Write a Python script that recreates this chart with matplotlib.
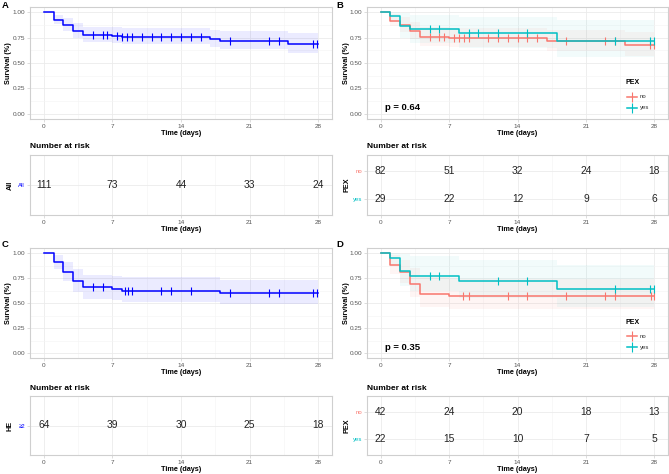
import numpy as np
import matplotlib
matplotlib.use("Agg")
import matplotlib.pyplot as plt
from matplotlib.lines import Line2D

plt.rcParams["font.family"] = ["Liberation Sans", "DejaVu Sans"]

W, H = 669, 474

# ===== data =====
BLUE = "#0000FF"
RED = "#F8766D"
TEAL = "#00BFC4"
T_END = 28

# A: all patients
A_time = [0, 1, 2, 3, 4, 7, 8, 17, 18, 24.9]
A_surv = [1, .924, .872, .816, .779, .768, .755, .735, .715, .69]
A_lo = [1, .88, .81, .75, .71, .70, .685, .66, .64, .60]
A_hi = [1, .975, .94, .89, .855, .85, .84, .825, .81, .79]
A_cens = [5, 6, 6.5, 7.5, 8, 8.5, 9, 10, 11, 12, 13, 14, 15, 16, 19, 23, 24, 27.5, 27.9]

# B: PEX no / yes
B_no_time = [0, 1, 2, 3, 4, 7, 17, 25]
B_no_surv = [1, .915, .875, .817, .76, .745, .72, .678]
B_no_lo = [1, .86, .80, .74, .67, .655, .62, .57]
B_no_hi = [1, .98, .95, .90, .85, .84, .82, .80]
B_no_cens = [5, 6, 6.5, 7.5, 8, 8.5, 9, 11, 12, 13, 14, 15, 16, 19, 23, 24, 27.6, 28]
B_yes_time = [0, 1, 2, 3, 8, 18]
B_yes_surv = [1, .966, .866, .83, .79, .72]
B_yes_lo = [1, .90, .75, .70, .65, .56]
B_yes_hi = [1, 1, .99, .97, .95, .92]
B_yes_cens = [5, 6, 9, 10, 12, 15, 24, 27.6, 28]

# C: HE >= 2
C_time = [0, 1, 2, 3, 4, 7, 8, 18]
C_surv = [1, .906, .813, .719, .656, .636, .62, .60]
C_lo = [1, .84, .72, .61, .54, .53, .51, .49]
C_hi = [1, .98, .91, .84, .78, .77, .76, .73]
C_cens = [5, 6, 8.3, 8.6, 9, 12, 13, 15, 19, 23, 24, 27.5, 27.9]

# D: PEX no / yes (HE >= 2)
D_no_time = [0, 1, 2, 3, 4, 7]
D_no_surv = [1, .881, .81, .69, .595, .567]
D_no_lo = [1, .79, .70, .56, .46, .44]
D_no_hi = [1, .98, .93, .85, .76, .74]
D_no_cens = [8.4, 9, 13, 15, 19, 23, 24, 27.7, 28]
D_yes_time = [0, 1, 2, 3, 8, 18]
D_yes_surv = [1, .955, .818, .773, .716, .636]
D_yes_lo = [1, .87, .67, .62, .55, .46]
D_yes_hi = [1, 1, .99, .97, .93, .88]
D_yes_cens = [5, 6, 12, 15, 24, 27.6, 28]

risk_times = [0, 7, 14, 21, 28]
A_risk = [111, 73, 44, 33, 24]
B_risk_no = [82, 51, 32, 24, 18]
B_risk_yes = [29, 22, 12, 9, 6]
C_risk = [64, 39, 30, 25, 18]
D_risk_no = [42, 24, 20, 18, 13]
D_risk_yes = [22, 15, 10, 7, 5]

x_ticks = [0, 7, 14, 21, 28]
y_ticks = [0, 0.25, 0.5, 0.75, 1.0]
y_ticklabels = ["0.00", "0.25", "0.50", "0.75", "1.00"]

GRID = "#EBEBEB"
BORDER = "#CFCFCF"
TICKC = "#555555"

fig = plt.figure(figsize=(W / 100, H / 100), dpi=100)


def rect(l, t, r, b):
    return [l / W, 1 - b / H, (r - l) / W, (b - t) / H]


def fx(x):
    return x / W


def fy(y):
    return 1 - y / H


def style(ax, box, ylab):
    l, t, r, b = box
    ax.set_xlim(-1.4, 29.4)
    ax.set_xticks(x_ticks)
    ax.set_xticks(np.arange(3.5, 28, 7), minor=True)
    ax.grid(True, which="major", color=GRID, lw=0.6)
    ax.grid(True, which="minor", color="#F4F4F4", lw=0.4)
    ax.set_axisbelow(True)
    for sp in ax.spines.values():
        sp.set_color(BORDER)
        sp.set_linewidth(0.8)
    ax.tick_params(which="both", length=2, width=0.5, color=BORDER,
                   labelsize=4.6, labelcolor=TICKC, pad=1.5)
    ax.tick_params(which="minor", length=0)
    ax.set_xlabel("Time (days)", fontsize=5.2, fontweight="bold", va="center")
    ax.xaxis.set_label_coords(0.5, -14.5 / (b - t))
    ax.set_ylabel(ylab, fontsize=5.2, fontweight="bold", va="center", ha="center")
    ax.yaxis.set_label_coords(-21 / (r - l), 0.5)


def km(ax, time, surv, lo, hi, cens, color, alpha=0.08):
    t = np.append(time, T_END)
    s = np.append(surv, surv[-1])
    l = np.append(lo, lo[-1])
    h = np.append(hi, hi[-1])
    ax.fill_between(t, l, h, step="post", color=color, alpha=alpha, lw=0)
    ax.step(t, s, where="post", color=color, lw=1.1)
    idx = np.searchsorted(time, cens, side="right") - 1
    ax.plot(cens, np.array(surv)[idx], ls="none", marker="|", ms=6,
            mew=0.8, color=color)


def legend_px(box, pval):
    l, t, r, b = box
    fig.text(fx(l + 18), fy(b - 11), pval, fontsize=6.8, fontweight="bold",
             va="center", ha="left")
    fig.text(fx(625), fy(b - 36), "PEX", fontsize=5.0, fontweight="bold",
             va="center", ha="left")
    for lab, col, dy in [("no", RED, 22), ("yes", TEAL, 11)]:
        y = fy(b - dy)
        fig.add_artist(Line2D([fx(627), fx(637)], [y, y], color=col, lw=1.1,
                              transform=fig.transFigure))
        fig.add_artist(Line2D([fx(632)], [y], color=col, marker="|", ms=7,
                              mew=0.8, transform=fig.transFigure))
        fig.text(fx(640), y, lab, fontsize=4.3, va="center", ha="left",
                 color="#333333")


def surv_axes(box, curves, pval=None):
    ax = fig.add_axes(rect(*box))
    style(ax, box, "Survival (%)")
    ax.set_ylim(-0.05, 1.05)
    ax.set_yticks(y_ticks)
    ax.set_yticklabels(y_ticklabels)
    ax.set_yticks(np.arange(0.125, 1.0, 0.25), minor=True)
    for c in curves:
        km(ax, *c)
    if pval:
        legend_px(box, pval)
    return ax


def risk_axes(box, rows, ylabel, labels, colors, title_y):
    ax = fig.add_axes(rect(*box))
    style(ax, box, ylabel)
    ax.yaxis.set_label_coords(-20 / (box[2] - box[0]), 0.5)
    n = len(rows)
    ax.set_ylim(0.4, n + 0.6)
    ypos = list(range(n, 0, -1))
    ax.set_yticks(ypos)
    ax.set_yticklabels(labels, fontsize=4.3)
    for tl, c in zip(ax.get_yticklabels(), colors):
        tl.set_color(c)
    for row, y in zip(rows, ypos):
        for t, v in zip(risk_times, row):
            ax.text(t, y, str(v), fontsize=7.4, ha="center", va="center",
                    color="#222222")
    fig.text(fx(box[0]), fy(title_y), "Number at risk", fontsize=6.0,
             fontweight="bold", va="center", ha="left")
    return ax


# ----- panel A -----
surv_axes((30, 7, 332, 119), [(A_time, A_surv, A_lo, A_hi, A_cens, BLUE)])
risk_axes((30, 155, 332, 215), [A_risk], "All", ["All"], [BLUE], 147)

# ----- panel B -----
surv_axes((367, 7, 668, 119),
          [(B_no_time, B_no_surv, B_no_lo, B_no_hi, B_no_cens, RED, 0.07),
           (B_yes_time, B_yes_surv, B_yes_lo, B_yes_hi, B_yes_cens, TEAL, 0.05)],
          pval="p = 0.64")
risk_axes((367, 155, 668, 215), [B_risk_no, B_risk_yes], "PEX", ["no", "yes"],
          [RED, TEAL], 147)

# ----- panel C -----
surv_axes((30, 248, 332, 358), [(C_time, C_surv, C_lo, C_hi, C_cens, BLUE)])
risk_axes((30, 396, 332, 455), [C_risk], "HE", ["\u22652"], [BLUE], 388)

# ----- panel D -----
surv_axes((367, 248, 668, 358),
          [(D_no_time, D_no_surv, D_no_lo, D_no_hi, D_no_cens, RED, 0.07),
           (D_yes_time, D_yes_surv, D_yes_lo, D_yes_hi, D_yes_cens, TEAL, 0.05)],
          pval="p = 0.35")
risk_axes((367, 396, 668, 455), [D_risk_no, D_risk_yes], "PEX", ["no", "yes"],
          [RED, TEAL], 388)

for letter, (x, y) in zip("ABCD", [(2, 5), (336, 5), (2, 244), (336, 244)]):
    fig.text(fx(x), fy(y), letter, fontsize=6.8, fontweight="bold",
             ha="left", va="center")

fig.savefig("out.png", dpi=100)
